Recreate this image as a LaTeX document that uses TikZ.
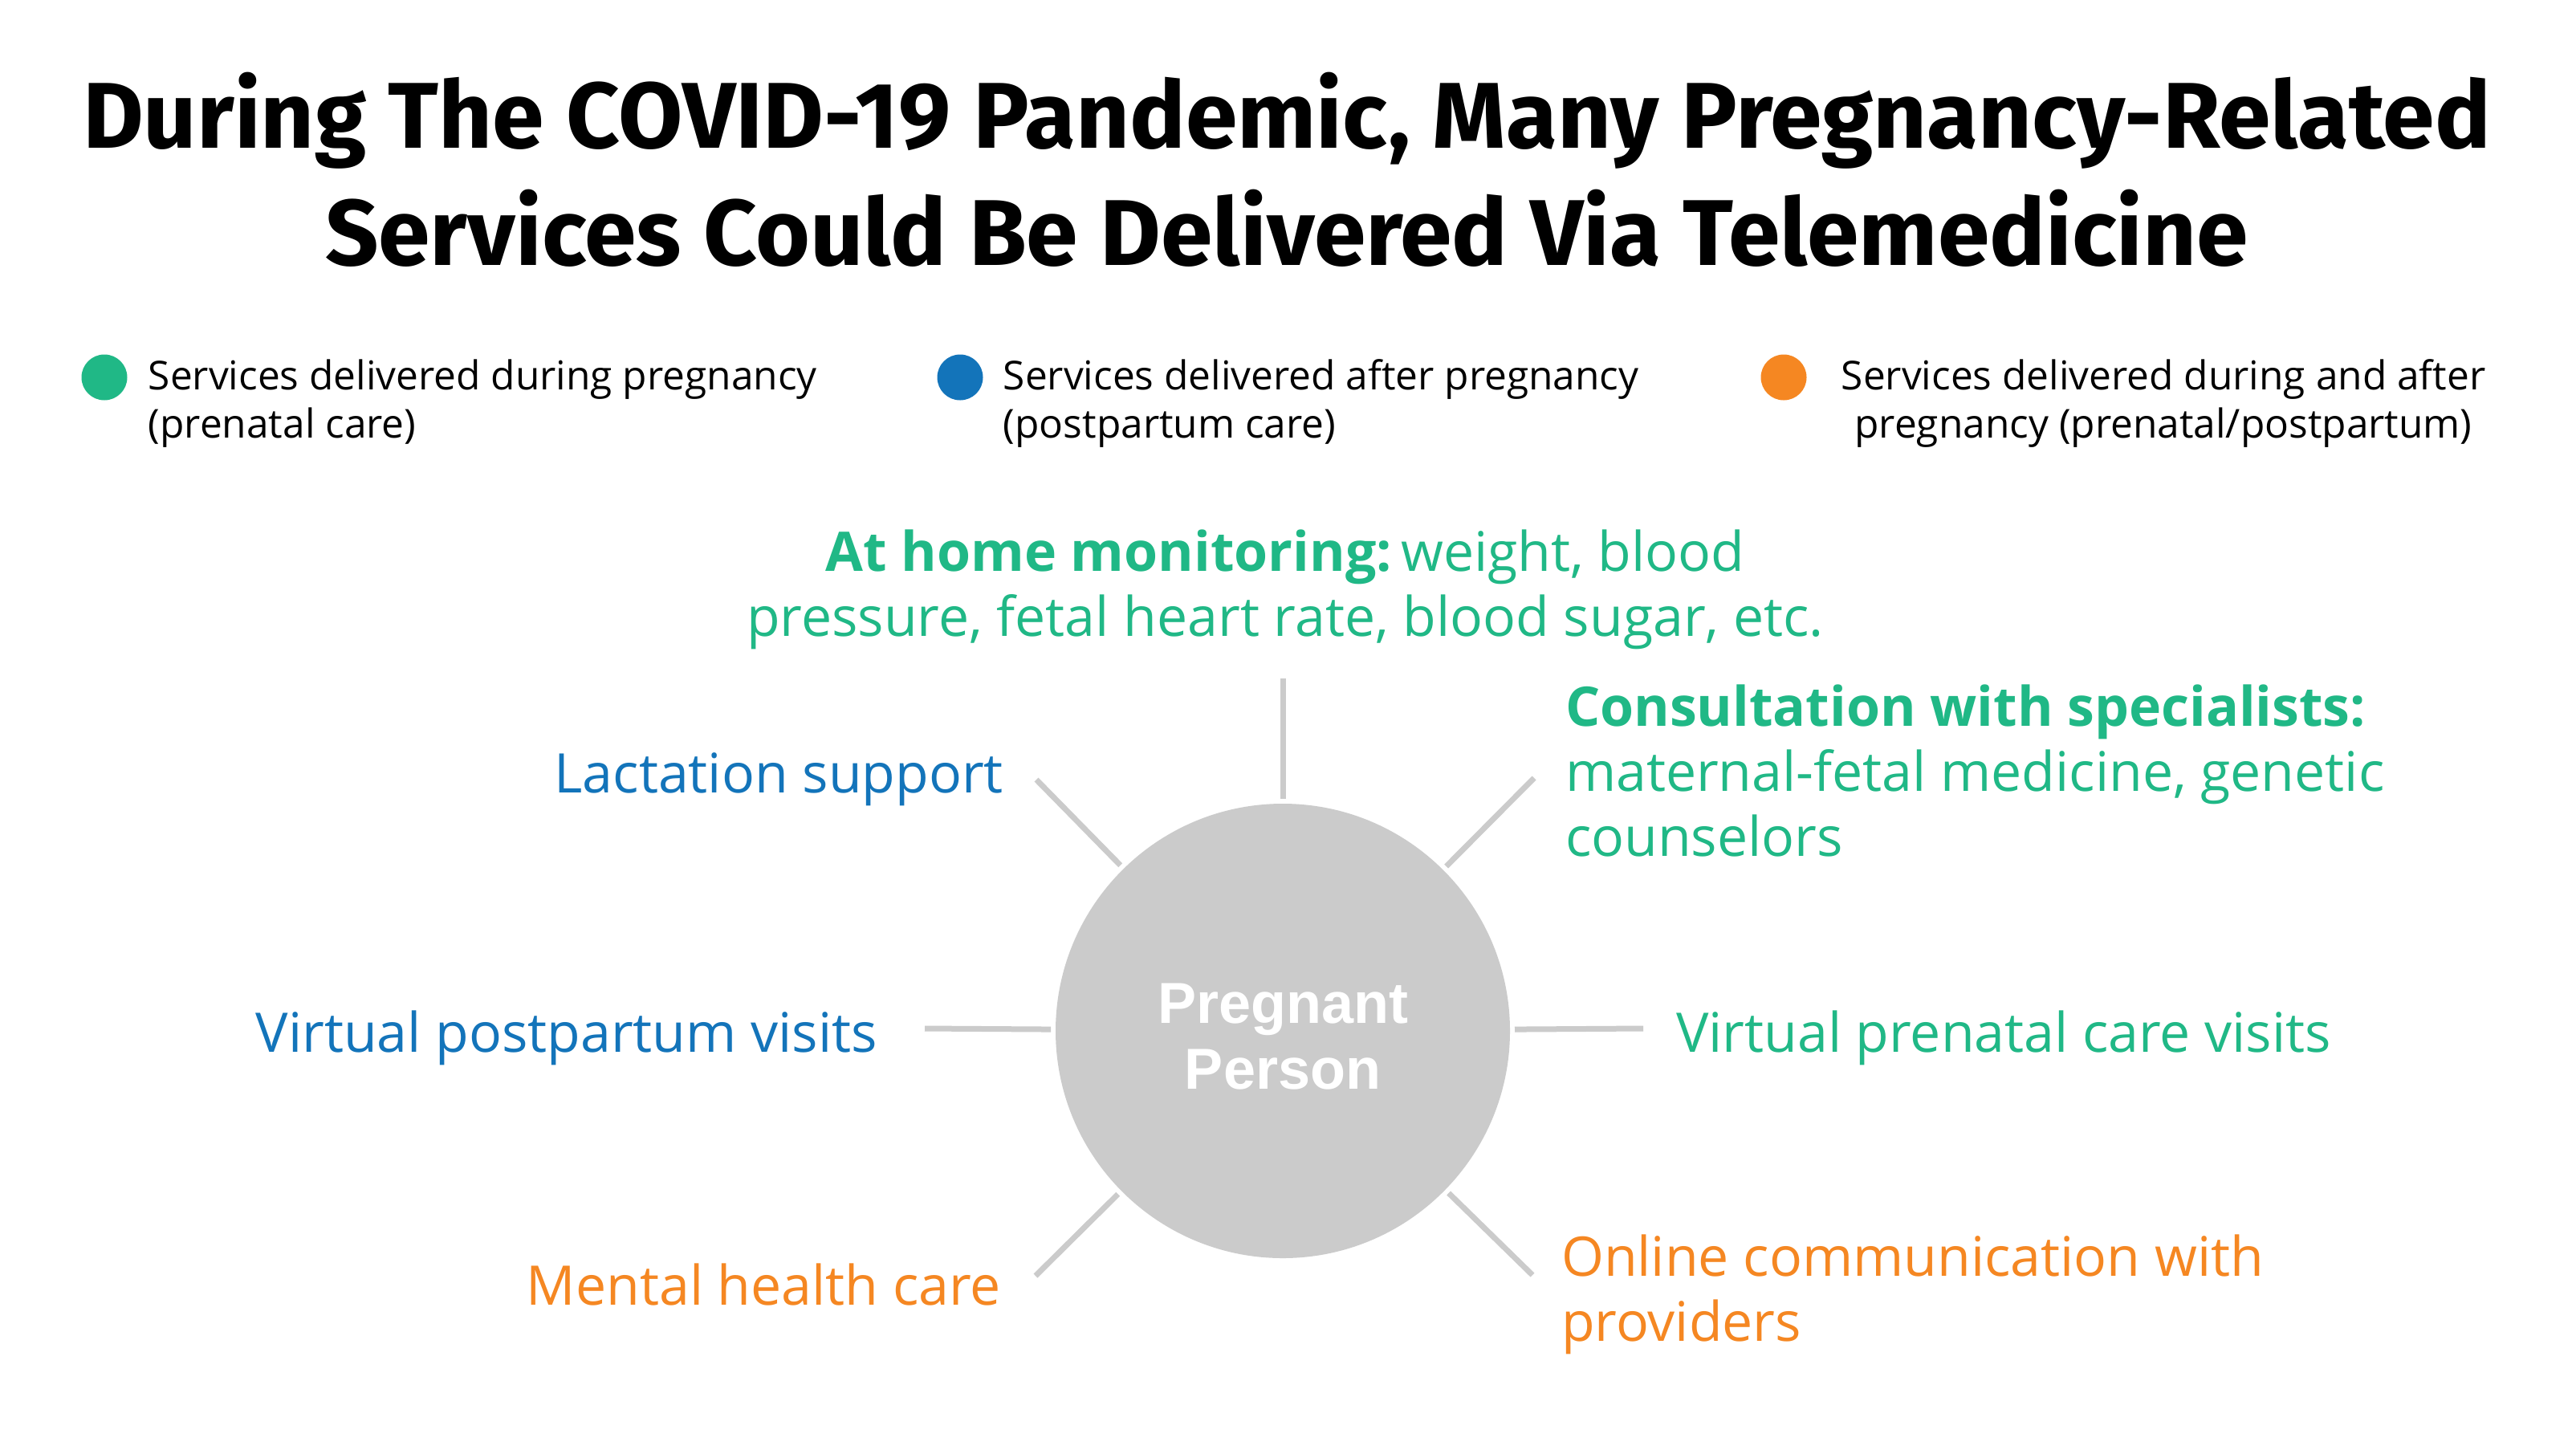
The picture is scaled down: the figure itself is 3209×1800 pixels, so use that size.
\documentclass[tikz,border=0pt]{standalone}
\usepackage{fontspec}
\setmainfont{Open Sans}
\newfontfamily\titlefont{Fira Sans}
\newfontfamily\ppfont{Liberation Sans}
\definecolor{cgreen}{HTML}{20B886}
\definecolor{cblue}{HTML}{1374BA}
\definecolor{corange}{HTML}{F58722}
\definecolor{cgrey}{HTML}{CBCBCB}
\begin{document}
\begin{tikzpicture}[x=0.25pt,y=-0.25pt,
  lbl/.style={font=\fontsize{17pt}{20.25pt}\selectfont, inner sep=0pt, outer sep=0pt},
  leg/.style={font=\fontsize{12.4pt}{15pt}\selectfont, inner sep=0pt, text=black},
  spoke/.style={draw=cgrey, line width=1.75pt},
  dot/.style={circle, minimum size=14.25pt, inner sep=0pt}]
\useasboundingbox (0,0) rectangle (3209,1800);
\fill[white] (0,0) rectangle (3209,1800);

% title (multi-line nodes: base = last line's baseline)
\node[anchor=base, align=center, inner sep=0pt,
      font=\titlefont\bfseries\fontsize{29.1pt}{36.5pt}\selectfont] (title) at (1603,330)
  {During The COVID-19 Pandemic, Many Pregnancy-Related\\Services Could Be Delivered Via Telemedicine};

% legend
\node[dot, fill=cgreen] (d1) at (130,470) {};
\node[dot, fill=cblue] (d2) at (1196,470) {};
\node[dot, fill=corange] (d3) at (2222,470) {};
\node[leg, anchor=base west, align=left] (l1) at (184,545)
  {Services delivered during pregnancy\\(prenatal care)};
\node[leg, anchor=base west, align=left] (l2) at (1249,545)
  {Services delivered after pregnancy\\(postpartum care)};
\node[leg, anchor=base, align=center] (l3) at (2695,545)
  {Services delivered during and after\\pregnancy (prenatal/postpartum)};

% center
\node[circle, fill=cgrey, minimum size=141.5pt, inner sep=0pt, outer sep=1.5pt,
      text=white, align=center, font=\ppfont\bfseries\fontsize{18pt}{20.5pt}\selectfont]
  (pp) at (1598,1284) {\rule{0pt}{16pt}Pregnant\\Person};

% labels
\node[lbl, text=cgreen, anchor=base, align=center] (home) at (1601,792)
  {\textbf{At home monitoring:}\,weight, blood\\pressure, fetal heart rate, blood sugar, etc.};
\node[lbl, text=cgreen, anchor=base west, align=left] (cons) at (1950,1066)
  {\textbf{Consultation with specialists:}\\maternal-fetal medicine, genetic\\counselors};
\node[lbl, text=cblue, anchor=base east] (lact) at (1250,987) {Lactation support};
\node[lbl, text=cblue, anchor=base east] (vpp) at (1093,1310) {Virtual postpartum visits};
\node[lbl, text=cgreen, anchor=base west] (vpn) at (2088,1310) {Virtual prenatal care visits};
\node[lbl, text=corange, anchor=base east] (ment) at (1247,1625) {Mental health care};
\node[lbl, text=corange, anchor=base west, align=left] (onl) at (1945,1670)
  {Online communication with\\providers};

% spokes
\coordinate (eN) at (1598,845);
\coordinate (eUL) at (1291,971);
\coordinate (eUR) at (1911,969);
\coordinate (eL) at (1152,1281);
\coordinate (eR) at (2047,1281);
\coordinate (eLL) at (1290,1589);
\coordinate (eLR) at (1909,1588);
\foreach \e in {eN,eUL,eUR,eL,eR,eLL,eLR} \draw[spoke] (pp) -- (\e);
\end{tikzpicture}
\end{document}
